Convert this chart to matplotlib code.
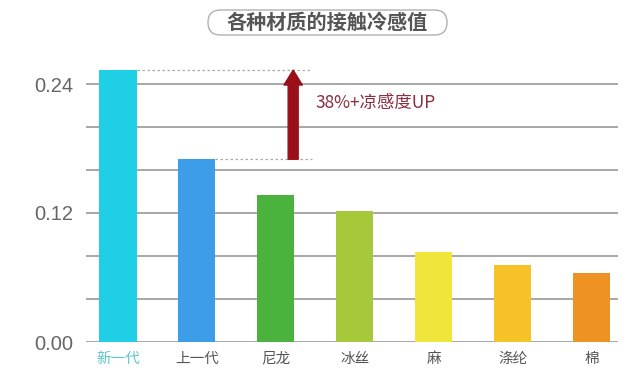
import matplotlib
matplotlib.use("Agg")
import matplotlib.pyplot as plt
from matplotlib.patches import FancyBboxPatch
from matplotlib.transforms import IdentityTransform

plt.rcParams['font.family'] = ['Noto Sans CJK SC', 'DejaVu Sans']

categories = ["新一代", "上一代", "尼龙", "冰丝", "麻", "涤纶", "棉"]
values = [0.253, 0.170, 0.137, 0.122, 0.084, 0.072, 0.064]
colors = ["#1fcfe6", "#3d9de9", "#4bb23d", "#a5c93b", "#f0e53b", "#f5c228", "#ef9224"]
yticks = [0.00, 0.12, 0.24]
ytick_labels = ["0.00", "0.12", "0.24"]
grid_levels = [0.00, 0.04, 0.08, 0.12, 0.16, 0.20, 0.24]
title = "各种材质的接触冷感值"
note = "38%+凉感度UP"

W, H = 641, 386
fig = plt.figure(figsize=(W/100, H/100), dpi=100)
ax = fig.add_axes([86/W, 44/H, (618-86)/W, (342-62.5)/H])
ax.set_xlim(-0.405, 6.336)
ax.set_ylim(0, 0.26)

for g in grid_levels:
    ax.axhline(g, color="#a0a0a0", lw=1.3, zorder=1)

x = list(range(len(categories)))
ax.bar(x, values, width=0.47, color=colors, zorder=2)

for s in ax.spines.values():
    s.set_visible(False)
ax.set_yticks(yticks)
ax.set_yticklabels(ytick_labels, fontsize=14.5, color="#666666",
                   family=["Liberation Sans", "DejaVu Sans"])
ax.tick_params(axis='y', length=0, pad=9)
ax.set_xticks(x)
ax.set_xticklabels(categories, fontsize=10.5, color="#555555")
ax.tick_params(axis='x', length=0, pad=7)
ax.get_xticklabels()[0].set_color("#5cc6cc")

# dashed reference lines
ax.plot([0.235, 2.46], [values[0], values[0]], ls=(0, (2, 2)), color="#aaaaaa", lw=0.9, zorder=3)
ax.plot([1.235, 2.46], [values[1], values[1]], ls=(0, (2, 2)), color="#aaaaaa", lw=0.9, zorder=3)

# arrow
ax.annotate("", xy=(2.22, values[0]), xytext=(2.22, values[1]),
            arrowprops=dict(arrowstyle="simple,head_width=1.1,head_length=0.9,tail_width=0.6",
                            color="#9a0f18", shrinkA=0, shrinkB=0, mutation_scale=12),
            zorder=4)
ax.text(2.50, 0.222, note, fontsize=12.5, color="#8a2f40", va="center", ha="left")

# title pill box (pixel coordinates)
box = FancyBboxPatch((208, H - 35), 447 - 208, 25,
                     boxstyle="round,pad=0,rounding_size=12.5",
                     transform=IdentityTransform(), fc="white", ec="#b0b0b0", lw=1.0)
fig.patches.append(box)
fig.text(327/W, 1 - 22.5/H, title, fontsize=14.5, color="#555555", ha="center", va="center",
         fontweight="bold")

fig.savefig("out.png", dpi=100)
